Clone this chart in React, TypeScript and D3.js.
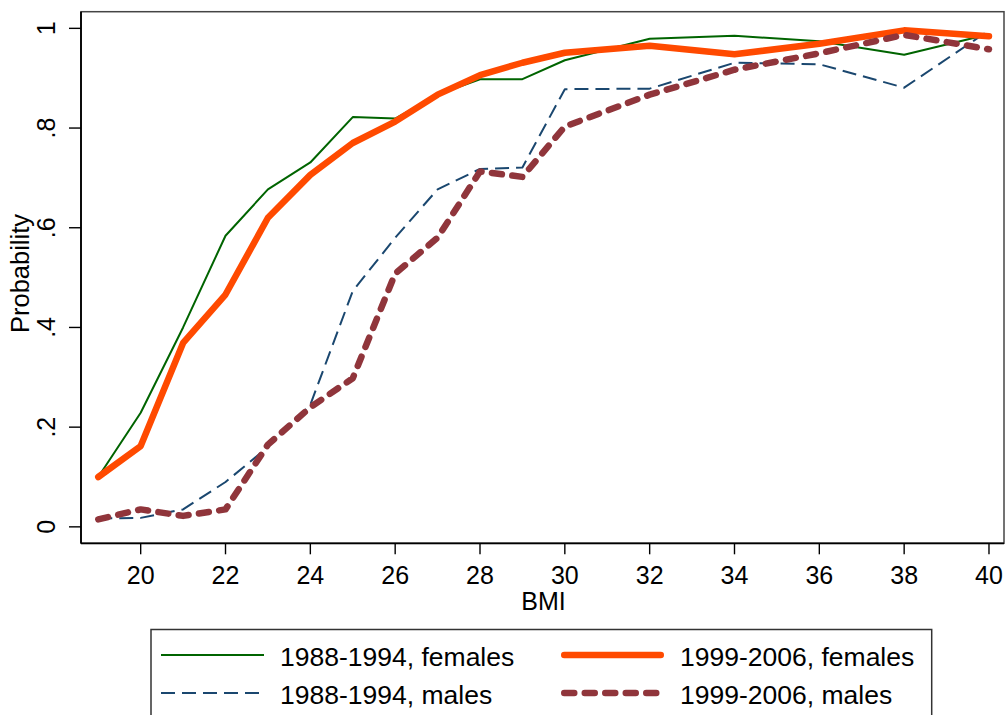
import React from "react";
import * as d3 from "d3";

// BMI values at which the probabilities were estimated
const bmi = [19, 20, 21, 22, 23, 24, 25, 26, 27, 28, 29, 30, 32, 34, 36, 38, 40];

// Estimated probabilities by survey period and sex
const females8894 = [0.100, 0.229, 0.400, 0.584, 0.677, 0.731, 0.822, 0.819, 0.867, 0.898, 0.898, 0.936, 0.979, 0.985, 0.974, 0.947, 0.988];
const females9906 = [0.100, 0.162, 0.369, 0.466, 0.620, 0.706, 0.770, 0.813, 0.867, 0.906, 0.931, 0.951, 0.965, 0.948, 0.969, 0.996, 0.984];
const males8894 = [0.017, 0.018, 0.035, 0.090, 0.160, 0.245, 0.473, 0.580, 0.677, 0.718, 0.721, 0.878, 0.879, 0.931, 0.928, 0.881, 0.996];
const males9906 = [0.015, 0.035, 0.022, 0.035, 0.165, 0.240, 0.298, 0.508, 0.580, 0.713, 0.702, 0.803, 0.867, 0.917, 0.950, 0.987, 0.958];

// Axis ticks
const xTicks = [20, 22, 24, 26, 28, 30, 32, 34, 36, 38, 40];
const yTicks = [0, 0.2, 0.4, 0.6, 0.8, 1];
const yTickLabels = ["0", ".2", ".4", ".6", ".8", "1"];

// Legend labels
const seriesLabels = ["1988-1994, females", "1999-2006, females", "1988-1994, males", "1999-2006, males"];

const FONT = '"Liberation Sans", Arial, Helvetica, sans-serif';

type Style = { color: string; width: number; dash?: string; cap: "butt" | "round" };

const styles: Style[] = [
  { color: "#006400", width: 2, cap: "butt" },
  { color: "#ff4a00", width: 6.5, cap: "round" },
  { color: "#1a476f", width: 2, dash: "14 7", cap: "butt" },
  { color: "#90353b", width: 6.5, dash: "10 10.5", cap: "round" },
];

export default function App() {
  const left = 81;
  const right = 1004;
  const top = 11.7;
  const bottom = 543.3;

  const x = d3.scaleLinear().domain([18.593, 40.354]).range([left, right]);
  const y = d3.scaleLinear().domain([-0.033, 1.0334]).range([bottom, top]);

  const series = [females8894, females9906, males8894, males9906];
  // draw order: thin lines first, thick on top
  const drawOrder = [0, 2, 1, 3];

  const line = (vals: number[]) =>
    d3
      .line<number>()
      .x((_, i) => x(bmi[i]))
      .y((v) => y(v))(vals) as string;

  // legend layout
  const legLeft = 151;
  const legTop = 629.5;
  const legRight = 931.7;
  const colX = [161, 561];
  const sampleLen = 103;
  const rowY = [655, 693];

  return (
    <svg
      width={1008}
      height={715}
      style={{ position: "absolute", left: 0, top: 0, display: "block", background: "#fff" }}
      fontFamily={FONT}
    >
      <rect x={0} y={0} width={1008} height={715} fill="#fff" />

      {/* plot region frame */}
      <rect x={left} y={top} width={right - left} height={bottom - top} fill="none" stroke="#444" strokeWidth={1.5} />

      {/* series */}
      {drawOrder.map((k) => {
        const s = styles[k];
        return (
          <path
            key={k}
            d={line(series[k])}
            fill="none"
            stroke={s.color}
            strokeWidth={s.width}
            strokeDasharray={s.dash}
            strokeLinecap={s.cap}
            strokeLinejoin="round"
          />
        );
      })}

      {/* axes */}
      <line x1={left} x2={left} y1={top} y2={bottom} stroke="#000" strokeWidth={1.8} />
      <line x1={left} x2={right} y1={bottom} y2={bottom} stroke="#000" strokeWidth={1.8} />

      {yTicks.map((t, i) => (
        <g key={t}>
          <line x1={left - 12} x2={left} y1={y(t)} y2={y(t)} stroke="#000" strokeWidth={1.4} />
          <text
            transform={`translate(${55},${y(t)}) rotate(-90)`}
            textAnchor="middle"
            fontSize={25}
            fill="#000"
          >
            {yTickLabels[i]}
          </text>
        </g>
      ))}

      {xTicks.map((t) => (
        <g key={t}>
          <line x1={x(t)} x2={x(t)} y1={bottom} y2={bottom + 11} stroke="#000" strokeWidth={1.4} />
          <text x={x(t)} y={584} textAnchor="middle" fontSize={25} fill="#000">
            {t}
          </text>
        </g>
      ))}

      {/* axis titles */}
      <text x={543.5} y={610} textAnchor="middle" fontSize={25} fill="#000">
        BMI
      </text>
      <text
        transform={`translate(${28.5},${273.5}) rotate(-90)`}
        textAnchor="middle"
        fontSize={25.5}
        fill="#000"
      >
        Probability
      </text>

      {/* legend */}
      <rect x={legLeft} y={legTop} width={legRight - legLeft} height={120} fill="#fff" stroke="#333" strokeWidth={1.5} />
      {[0, 1, 2, 3].map((k) => {
        const s = styles[k];
        const col = k % 2;
        const row = Math.floor(k / 2);
        const x0 = colX[col];
        const yy = rowY[row];
        return (
          <g key={k}>
            <line
              x1={x0 + (s.cap === "round" ? s.width / 2 : 0)}
              x2={x0 + sampleLen - (s.cap === "round" ? s.width / 2 : 0)}
              y1={yy}
              y2={yy}
              stroke={s.color}
              strokeWidth={s.width}
              strokeDasharray={s.dash}
              strokeLinecap={s.cap}
            />
            <text x={x0 + 119} y={yy + 10.5} fontSize={26.5} fill="#000">
              {seriesLabels[k]}
            </text>
          </g>
        );
      })}
    </svg>
  );
}
